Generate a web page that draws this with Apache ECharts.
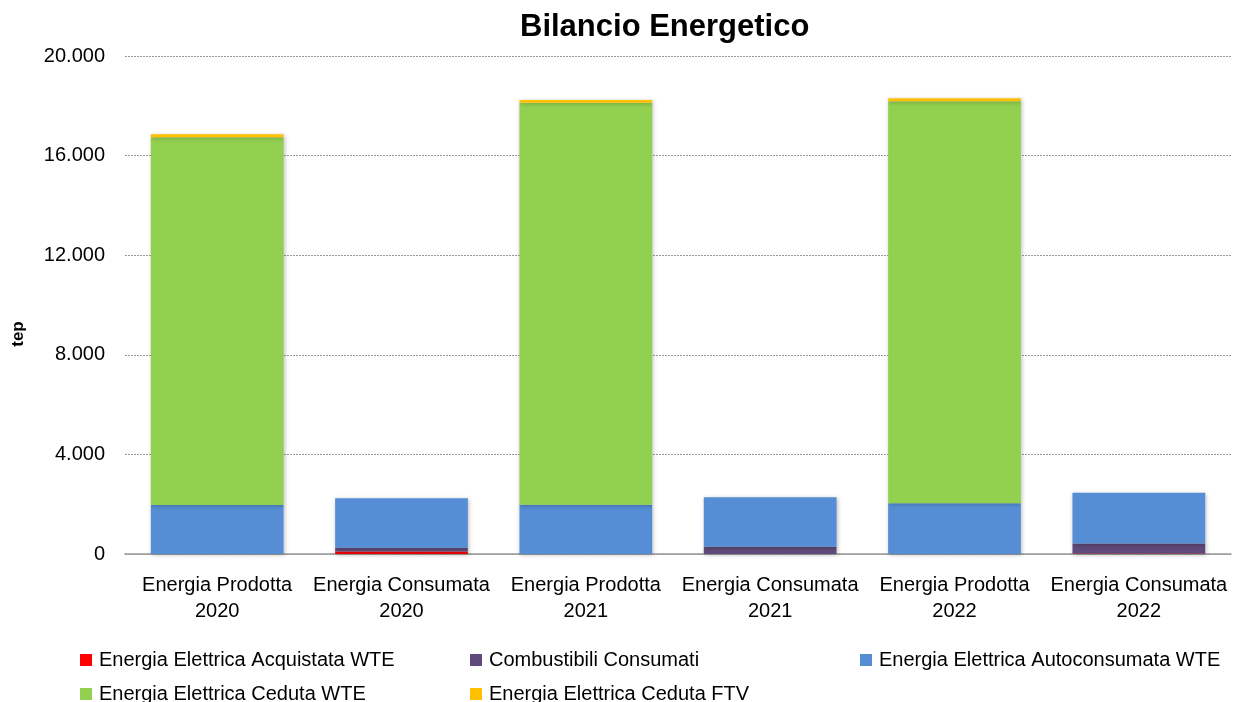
<!DOCTYPE html>
<html>
<head>
<meta charset="utf-8">
<script src="https://cdn.jsdelivr.net/npm/echarts@6/dist/echarts.min.js"></script>
<style>
  html, body { margin: 0; padding: 0; background: #fff; }
  #chart { width: 1247px; height: 702px; }
</style>
</head>
<body>
<div id="chart"></div>
<script>
const categories = [
  'Energia Prodotta\n2020', 'Energia Consumata\n2020',
  'Energia Prodotta\n2021', 'Energia Consumata\n2021',
  'Energia Prodotta\n2022', 'Energia Consumata\n2022'
]
// valori in tep
const acquistataWTE = [0, 100, 0, 0, 0, 20]
const combustibili = [0, 150, 0, 290, 0, 400]
const autoconsumataWTE = [1970, 1990, 1980, 1990, 2036, 2040]
const cedutaWTE = [14765, 0, 16145, 0, 16144, 0]
const cedutaFTV = [120, 0, 110, 0, 120, 0]
const yTicks = [0, 4000, 8000, 12000, 16000, 20000]

const font = '"Liberation Sans", "Open Sans", sans-serif'

const makeSeries = (name, data, color) => ({
  name,
  type: 'bar',
  stack: 'tot',
  data,
  barWidth: '72%',
  itemStyle: {
    color,
    shadowBlur: 4,
    shadowColor: 'rgba(0,0,0,0.25)',
    shadowOffsetX: 1,
    shadowOffsetY: 1
  }
})

// una legenda per voce, per avere la disposizione a colonne
const legendItem = (name, left, top) => ({
  left, top,
  itemWidth: 12, itemHeight: 12,
  icon: 'rect',
  textStyle: { color: '#000', fontSize: 20, fontFamily: font, padding: [0, 0, 0, 2] },
  data: [name]
})

const chart = echarts.init(document.getElementById('chart'))
chart.setOption({
  animation: false,
  backgroundColor: '#fff',
  title: {
    text: 'Bilancio Energetico',
    left: 515,
    top: 7,
    textStyle: { fontSize: 31, fontWeight: 'bold', color: '#000', fontFamily: font }
  },
  legend: [
    legendItem('Energia Elettrica Acquistata WTE', 75, 645),
    legendItem('Energia Elettrica Ceduta WTE', 75, 679),
    legendItem('Combustibili Consumati', 465, 645),
    legendItem('Energia Elettrica Ceduta FTV', 465, 679),
    legendItem('Energia Elettrica Autoconsumata WTE', 855, 645)
  ],
  graphic: [{
    type: 'text',
    x: 18,
    y: 334,
    rotation: Math.PI / 2,
    style: {
      text: 'tep',
      fill: '#000',
      font: 'bold 17px ' + font,
      align: 'center',
      verticalAlign: 'middle'
    }
  }],
  grid: { left: 125, right: 16, top: 56, bottom: 148 },
  xAxis: {
    type: 'category',
    data: categories,
    axisLine: { lineStyle: { color: '#999', width: 1.5 } },
    axisTick: { show: false },
    axisLabel: { color: '#000', fontSize: 20, fontFamily: font, lineHeight: 26, margin: 18, interval: 0 }
  },
  yAxis: {
    type: 'value',
    min: yTicks[0],
    max: yTicks[yTicks.length - 1],
    interval: 4000,
    axisLine: { show: false },
    axisTick: { show: false },
    axisLabel: {
      color: '#000', fontSize: 20, fontFamily: font, margin: 20,
      formatter: v => v.toLocaleString('de-DE')
    },
    splitLine: { lineStyle: { color: '#999', type: [2, 1], width: 1 } }
  },
  series: [
    makeSeries('Energia Elettrica Acquistata WTE', acquistataWTE, '#FF0000'),
    makeSeries('Combustibili Consumati', combustibili, '#604A7B'),
    makeSeries('Energia Elettrica Autoconsumata WTE', autoconsumataWTE, '#558ED5'),
    makeSeries('Energia Elettrica Ceduta WTE', cedutaWTE, '#92D050'),
    makeSeries('Energia Elettrica Ceduta FTV', cedutaFTV, '#FFC000')
  ]
})
</script>
</body>
</html>
